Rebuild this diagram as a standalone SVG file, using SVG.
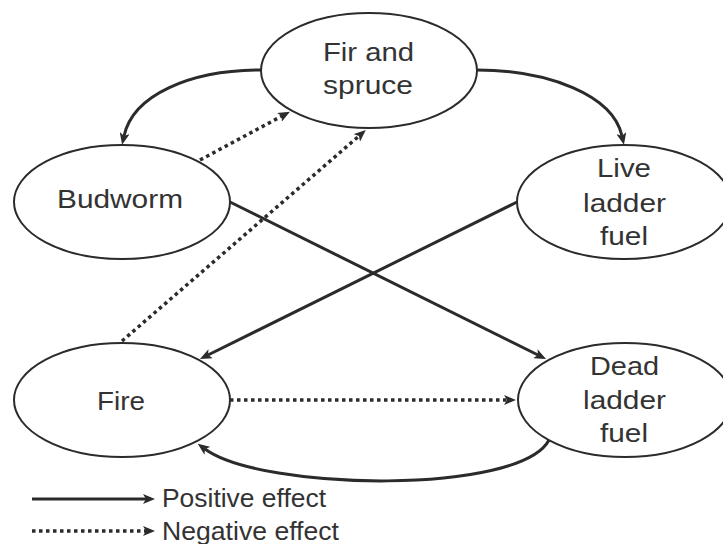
<svg xmlns="http://www.w3.org/2000/svg" width="723" height="544" viewBox="0 0 723 544">
<defs>
<style>
.node ellipse{fill:#fff;stroke:#2b2b2b;stroke-width:2}
text{font-family:"Liberation Sans",Arial,sans-serif;font-size:25px;fill:#333;}
.lbl{text-anchor:middle}
.pos{fill:none;stroke:#2b2b2b;stroke-width:3;marker-end:url(#ah)}
.neg{fill:none;stroke:#2b2b2b;stroke-width:3.5;stroke-dasharray:3.5 3.5;marker-end:url(#ah)}
</style>
<marker id="ah" viewBox="0 0 12 10" refX="3" refY="5" markerWidth="12" markerHeight="10" markerUnits="userSpaceOnUse" orient="auto">
<path d="M0,0 L12,5 L0,10 L3,5 z" fill="#2b2b2b"/>
</marker>
</defs>
<rect width="723" height="544" fill="#fff"/>
<g id="connectors">
<path class="pos" d="M261,70 C190,70 133,95 124,136"/>
<path class="pos" d="M477,70 C548,70 613,95 622,136"/>
<path class="neg" d="M200,160 L282,116"/>
<path class="neg" d="M122,341 L359,136"/>
<path class="pos" d="M230,202 L538,355"/>
<path class="pos" d="M517,202 L208,355"/>
<path class="neg" d="M230,400 L507,400"/>
<path class="pos" d="M549,440 C520,495 262,491 205,449"/>
</g>
<g id="fir-spruce" class="node">
<ellipse cx="369" cy="70.5" rx="108" ry="57.5"/>
<text class="lbl" x="368.5" y="61" textLength="91" lengthAdjust="spacingAndGlyphs">Fir and</text>
<text class="lbl" x="368" y="94" textLength="90" lengthAdjust="spacingAndGlyphs">spruce</text>
</g>
<g id="budworm" class="node">
<ellipse cx="122" cy="202" rx="108" ry="57"/>
<text class="lbl" x="120" y="208" textLength="126" lengthAdjust="spacingAndGlyphs">Budworm</text>
</g>
<g id="live-ladder-fuel" class="node">
<ellipse cx="624" cy="202" rx="107" ry="57"/>
<text class="lbl" x="624" y="177" textLength="54" lengthAdjust="spacingAndGlyphs">Live</text>
<text class="lbl" x="624.5" y="212" textLength="83" lengthAdjust="spacingAndGlyphs">ladder</text>
<text class="lbl" x="624" y="245" textLength="48" lengthAdjust="spacingAndGlyphs">fuel</text>
</g>
<g id="fire" class="node">
<ellipse cx="122" cy="400" rx="108" ry="57"/>
<text class="lbl" x="121" y="410" textLength="48" lengthAdjust="spacingAndGlyphs">Fire</text>
</g>
<g id="dead-ladder-fuel" class="node">
<ellipse cx="625" cy="400" rx="107" ry="57"/>
<text class="lbl" x="624.5" y="375" textLength="69" lengthAdjust="spacingAndGlyphs">Dead</text>
<text class="lbl" x="624.5" y="409" textLength="83" lengthAdjust="spacingAndGlyphs">ladder</text>
<text class="lbl" x="624" y="442" textLength="48" lengthAdjust="spacingAndGlyphs">fuel</text>
</g>
<g id="legend">
<path class="pos" d="M32,499 L146,499"/>
<text x="162" y="507" textLength="164" lengthAdjust="spacingAndGlyphs">Positive effect</text>
<path class="neg" d="M32,531 L146,531"/>
<text x="162" y="540" textLength="177" lengthAdjust="spacingAndGlyphs">Negative effect</text>
</g>
</svg>
